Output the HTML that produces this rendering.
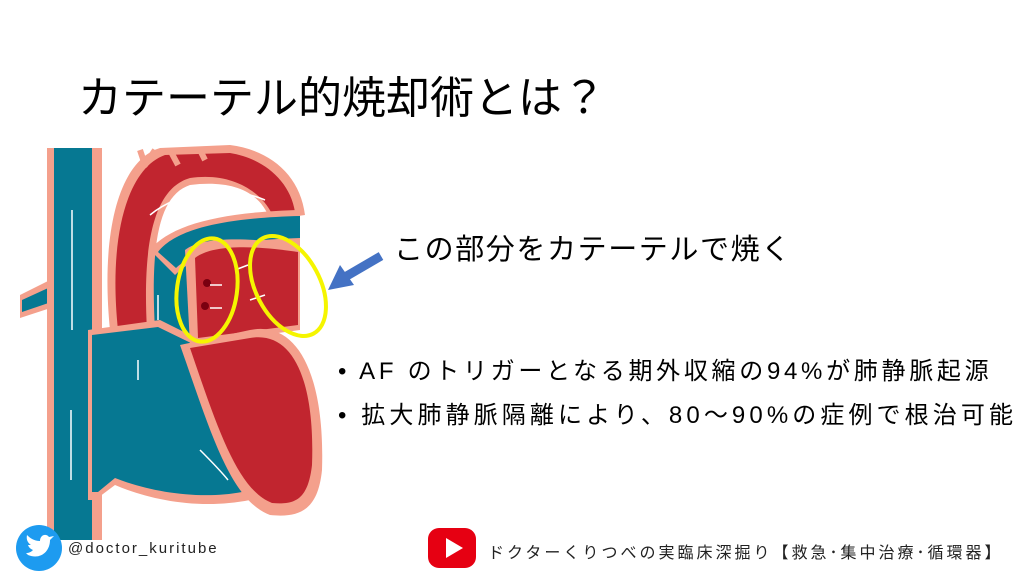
<!DOCTYPE html>
<html><head><meta charset="utf-8"><style>
body{margin:0;width:1024px;height:576px;background:#fff;overflow:hidden;position:relative;font-family:"Liberation Sans","Noto Sans CJK JP",sans-serif;color:#000}
.t{position:absolute;white-space:nowrap}
</style></head><body>
<div class="t" style="left:78px;top:62px;font-size:44px">カテーテル的焼却術とは？</div>
<div class="t" style="left:394px;top:226px;font-size:29px;letter-spacing:1.6px">この部分をカテーテルで焼く</div>
<div class="t" style="left:338px;top:351px;font-size:24px;letter-spacing:3.7px">• AF のトリガーとなる期外収縮の94%が肺静脈起源</div>
<div class="t" style="left:338px;top:395px;font-size:24px;letter-spacing:4.1px">• 拡大肺静脈隔離により、80～90%の症例で根治可能</div>
<svg width="1024" height="576" style="position:absolute;left:0;top:0">
<g stroke-linejoin="round">
<path d="M20 295 L70 270 L75 300 L20 318 Z" fill="#f4a08c"/>
<path d="M22 300 L70 278 L72 295 L22 312 Z" fill="#067892"/>
<!-- pulmonary trunk teal column -->
<path d="M140 250 L195 240 L200 345 L145 345 Z" fill="#f4a08c"/>
<path d="M147 255 L190 246 L194 340 L150 340 Z" fill="#067892"/>
<!-- aorta arch -->
<path d="M110 330 C100 230 120 160 160 148 L230 145 C270 150 300 175 305 215 L270 220 C260 190 230 180 190 185 C160 195 150 240 155 330 Z" fill="#f4a08c"/>
<path d="M118 330 C108 235 128 168 165 155 L230 153 C262 158 290 180 295 212 L272 214 C260 190 230 172 190 178 C155 188 142 240 147 330 Z" fill="#c1252f"/>
<path d="M140 150 L145 165 L155 150 M170 150 L178 165 M200 150 L205 160" stroke="#f4a08c" stroke-width="6" fill="none"/>
<path d="M150 250 C170 225 220 212 300 210 L300 245 C240 245 200 250 175 275 Z" fill="#f4a08c"/>
<path d="M158 252 C175 230 220 218 300 216 L300 238 C240 240 200 246 176 268 Z" fill="#067892"/>
<rect x="47" y="148" width="55" height="392" fill="#f4a08c"/>
<rect x="54" y="148" width="38" height="392" fill="#067892"/>
<path d="M88 330 L160 320 L200 340 L250 500 C200 510 150 500 115 485 L95 500 L88 500 Z" fill="#f4a08c"/>
<path d="M92 335 L158 327 L195 345 L242 492 C200 500 150 492 115 478 L98 492 L92 492 Z" fill="#067892"/>
<path d="M185 250 C200 238 240 236 300 245 L300 330 L190 345 Z" fill="#f4a08c"/>
<path d="M195 258 C210 246 245 244 298 252 L298 325 L198 338 Z" fill="#c1252f"/>
<path d="M180 345 L250 330 C300 320 325 380 322 470 C318 510 300 518 270 515 C230 500 210 430 180 345 Z" fill="#f4a08c"/>
<path d="M190 348 L250 338 C295 330 315 385 312 465 C308 500 295 505 272 503 C238 490 218 430 190 348 Z" fill="#c1252f"/>
<circle cx="207" cy="283" r="4" fill="#7a0010"/><circle cx="205" cy="306" r="4" fill="#7a0010"/>
<g stroke="#fff" stroke-width="1.5" fill="none">
<path d="M72 210 V330"/><path d="M71 480 V410"/><path d="M228 480 C220 470 210 460 200 450"/><path d="M250 300 L265 295"/><path d="M210 285 L222 285"/><path d="M210 308 L222 308"/>
<path d="M150 215 C180 190 230 185 265 200"/><path d="M235 270 L248 265"/><path d="M158 320 V295"/><path d="M138 380 V360"/>
</g>
</g>
<ellipse cx="207" cy="290" rx="30" ry="52" fill="none" stroke="#f5f500" stroke-width="4" transform="rotate(8 207 290)"/>
<ellipse cx="288" cy="286" rx="32" ry="54" fill="none" stroke="#f5f500" stroke-width="4" transform="rotate(-28 288 286)"/>
<path d="M381 256 L345 277" stroke="#4472c4" stroke-width="9"/>
<path d="M328 290 L340 265 L354 285 Z" fill="#4472c4"/>
<circle cx="39" cy="548" r="23" fill="#1d9bf0"/>
<path d="M28 555 C40 560 50 552 50 540 L54 536 L49 537 C46 533 40 535 40 541 C34 541 30 538 27 535 C26 540 28 543 31 545 L28 545 C29 548 31 549 33 550 C31 552 29 553 26 553 Z" fill="#fff"/>
<rect x="428" y="528" width="48" height="40" rx="11" fill="#e60012"/>
<path d="M446 538 L446 558 L463 548 Z" fill="#fff"/>
</svg>
<div class="t" style="left:68px;top:540px;font-size:15px;color:#222;letter-spacing:2px">@doctor_kuritube</div>
<div class="t" style="left:488px;top:539px;font-size:16px;color:#222;letter-spacing:3px">ドクターくりつべの実臨床深掘り【救急･集中治療･循環器】</div>
</body></html>
